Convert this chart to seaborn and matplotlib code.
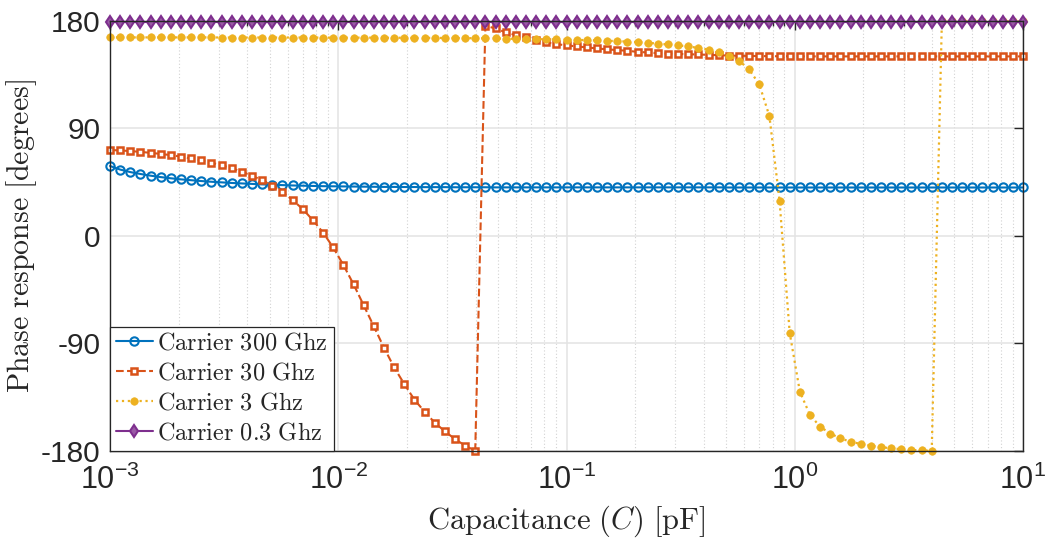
import numpy as np
import pandas as pd
import matplotlib
matplotlib.use("Agg")
import matplotlib.pyplot as plt
import seaborn as sns
from matplotlib.ticker import LogLocator, NullFormatter, FixedLocator

# ---------------- data ----------------
capacitance_pf = np.logspace(-3, 1, 91)  # sampling grid (pF)

phase_300ghz = [
    58.5, 55.5, 53.4, 51.8, 50.4, 49.2, 48.2, 47.3, 46.6, 45.9,
    45.3, 44.8, 44.3, 43.9, 43.5, 43.1, 42.8, 42.5, 42.2, 42.0,
    41.8, 41.6, 41.5, 41.4, 41.3, 41.2, 41.1, 41.0, 41.0, 40.9,
    40.9, 40.8, 40.8, 40.8, 40.7, 40.7, 40.7, 40.7, 40.6, 40.6,
    40.6, 40.6, 40.6, 40.6, 40.6, 40.6, 40.6, 40.6, 40.6, 40.6,
    40.6, 40.6, 40.6, 40.6, 40.6, 40.6, 40.6, 40.6, 40.6, 40.6,
    40.6, 40.5, 40.5, 40.5, 40.5, 40.5, 40.5, 40.5, 40.5, 40.5,
    40.5, 40.5, 40.5, 40.5, 40.5, 40.5, 40.5, 40.5, 40.5, 40.5,
    40.5, 40.5, 40.5, 40.5, 40.5, 40.5, 40.5, 40.5, 40.5, 40.5,
    40.5,
]

phase_30ghz = [
    71.9, 71.5, 71.0, 70.3, 69.5, 68.6, 67.6, 66.3, 64.8, 63.1,
    61.2, 59.1, 56.6, 53.7, 50.4, 46.5, 42.0, 36.6, 30.0, 22.4,
    13.1, 2.8, -9.7, -24.3, -40.4, -58.0, -75.6, -93.5, -109.9, -123.9,
    -137.0, -147.0, -156.2, -163.5, -170.0, -175.5, -179.8, 175.8, 173.6, 170.3,
    168.0, 166.1, 163.9, 161.9, 160.5, 159.4, 158.6, 157.7, 156.9, 156.1,
    155.5, 154.9, 154.0, 153.5, 152.9, 152.6, 152.3, 152.0, 151.8, 151.5,
    151.2, 150.9, 150.7, 150.6, 150.5, 150.4, 150.3, 150.3, 150.2, 150.2,
    150.2, 150.2, 150.2, 150.2, 150.2, 150.2, 150.2, 150.2, 150.2, 150.2,
    150.2, 150.2, 150.2, 150.2, 150.2, 150.2, 150.2, 150.2, 150.2, 150.2,
    150.2,
]

phase_3ghz = [
    166.1, 166.1, 166.1, 166.1, 166.1, 166.1, 166.1, 166.1, 166.1, 166.1,
    166.1, 166.0, 166.0, 166.0, 166.0, 166.0, 166.0, 166.0, 166.0, 166.0,
    166.0, 165.9, 165.9, 165.9, 165.9, 165.9, 165.9, 165.8, 165.8, 165.8,
    165.7, 165.7, 165.7, 165.6, 165.6, 165.5, 165.4, 165.3, 165.2, 165.0,
    164.9, 164.8, 164.7, 164.5, 164.4, 164.2, 164.0, 163.8, 163.6, 163.3,
    163.0, 162.6, 162.2, 161.6, 160.9, 160.2, 159.4, 158.5, 157.3, 155.9,
    153.8, 150.7, 146.6, 139.3, 126.8, 100.2, 29.3, -81.2, -130.3, -149.9,
    -159.6, -165.4, -169.4, -172.2, -174.1, -175.5, -176.8, -177.7, -178.5, -179.1,
    -179.5, -179.9, 179.9, 179.9, 179.8, 179.8, 179.8, 179.7, 179.7, 179.7,
    179.6,
]

phase_03ghz = [179.3] * 91

series_labels = ["Carrier 300 Ghz", "Carrier 30 Ghz", "Carrier 3 Ghz", "Carrier 0.3 Ghz"]
y_ticks = [-180, -90, 0, 90, 180]

# ---------------- style ----------------
sns.set_theme(style="white")
plt.rcParams["font.family"] = ["Liberation Sans", "DejaVu Sans"]
plt.rcParams["mathtext.fontset"] = "cm"
plt.rcParams["axes.unicode_minus"] = False
plt.rcParams["legend.numpoints"] = 1

colors = ["#0072BD", "#D95319", "#EDB120", "#7E2F8E"]

fig = plt.figure(figsize=(10.47, 5.40), dpi=100)
ax = fig.add_axes([0.1051, 0.1648, 0.8720, 0.7967])

series = [phase_300ghz, phase_30ghz, phase_3ghz, phase_03ghz]
styles = [
    dict(linestyle="-", marker="o", markersize=6.0, markerfacecolor="none",
         markeredgewidth=1.5, linewidth=1.5),
    dict(linestyle="--", marker="s", markersize=4.6, markerfacecolor="white",
         markeredgewidth=1.8, linewidth=1.5, dashes=(4, 3)),
    dict(linestyle=":", marker="o", markersize=5.4, markeredgewidth=0.5,
         linewidth=1.6),
    dict(linestyle="-", marker="d", markersize=6.6, markerfacecolor="#9a5aa6",
         markeredgewidth=1.5, linewidth=1.5),
]

for vals, lab, col, st in zip(series, series_labels, colors, styles):
    st = dict(st)
    if "markerfacecolor" not in st:
        st["markerfacecolor"] = col
    sns.lineplot(x=capacitance_pf, y=vals, ax=ax, color=col,
                 markeredgecolor=col, label=r"$\mathrm{" + lab.replace(" ", r"\ ") + "}$",
                 sort=False, estimator=None, clip_on=False, **st)

ax.set_xscale("log")
ax.set_xlim(1e-3, 1e1)
ax.set_ylim(-180, 180)
ax.yaxis.set_major_locator(FixedLocator(y_ticks))
ax.set_yticklabels([str(t) for t in y_ticks])
ax.xaxis.set_major_locator(LogLocator(base=10, numticks=10))
ax.xaxis.set_minor_locator(LogLocator(base=10, subs=np.arange(2, 10), numticks=20))
ax.xaxis.set_minor_formatter(NullFormatter())

ax.set_axisbelow(True)
ax.grid(which="major", color="#e3e3e3", linewidth=1.1, linestyle="-")
ax.grid(which="minor", axis="x", color="#d2d2d2", linewidth=0.8, linestyle=(0, (1, 2)))

for sp in ax.spines.values():
    sp.set_color("#262626")
    sp.set_linewidth(1.0)
    sp.set_visible(True)

ax.tick_params(which="both", direction="in", top=True, right=True,
               color="#262626", labelcolor="#262626", width=1.0)
ax.tick_params(which="major", length=6.5)
ax.tick_params(axis="y", which="major", labelsize=21.5, pad=7)
ax.tick_params(axis="x", which="major", labelsize=22, pad=10)
ax.tick_params(which="minor", length=3.5)

ax.set_xlabel(r"$\mathrm{Capacitance}\ (C)\ [\mathrm{pF}]$", fontsize=22, labelpad=5, color="#262626")
ax.set_ylabel(r"$\mathrm{Phase\ response\ [degrees]}$", fontsize=21.5, labelpad=1, color="#262626")

leg = ax.legend(loc="lower left", bbox_to_anchor=(0, 0), borderaxespad=0.0,
                fontsize=17.5, handlelength=1.5, handletextpad=0.2,
                labelspacing=0.33, borderpad=0.25, fancybox=False,
                framealpha=1.0, edgecolor="#262626")
leg.get_frame().set_linewidth(0.9)

fig.savefig("out.png", dpi=100)
